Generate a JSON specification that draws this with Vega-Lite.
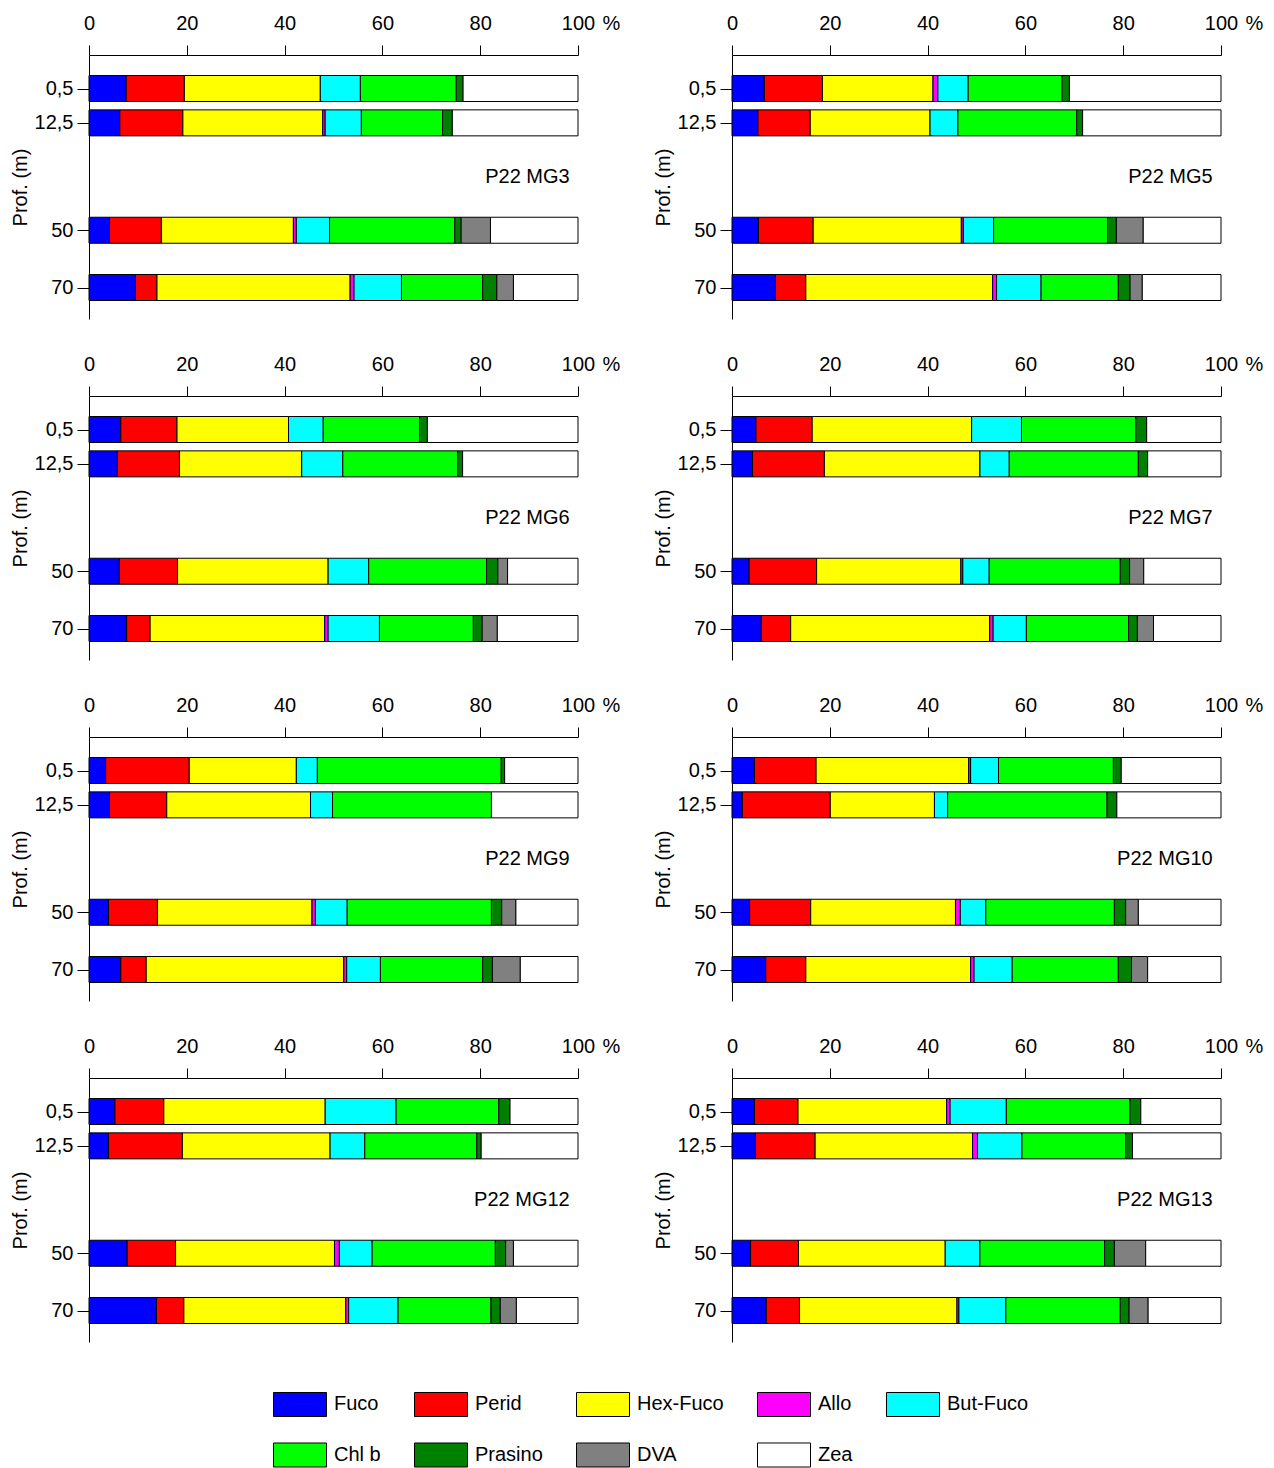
{
  "$schema": "https://vega.github.io/schema/vega-lite/v6.json",
  "background": "white",
  "padding": {"left": 10, "top": 12, "right": 5, "bottom": 5},
  "data": {
    "values": [
      {"panel": "P22 MG3", "depth": 0.5, "Fuco": 7.6, "Perid": 11.9, "Hex-Fuco": 27.8, "Allo": 0, "But-Fuco": 8.2, "Chl b": 19.6, "Prasino": 1.4, "DVA": 0, "Zea": 23.5},
      {"panel": "P22 MG3", "depth": 12.5, "Fuco": 6.3, "Perid": 12.9, "Hex-Fuco": 28.6, "Allo": 0.5, "But-Fuco": 7.4, "Chl b": 16.6, "Prasino": 2.0, "DVA": 0, "Zea": 25.7},
      {"panel": "P22 MG3", "depth": 50, "Fuco": 4.2, "Perid": 10.6, "Hex-Fuco": 27.0, "Allo": 0.6, "But-Fuco": 6.8, "Chl b": 25.6, "Prasino": 1.3, "DVA": 6.0, "Zea": 17.9},
      {"panel": "P22 MG3", "depth": 70, "Fuco": 9.5, "Perid": 4.4, "Hex-Fuco": 39.5, "Allo": 0.8, "But-Fuco": 9.7, "Chl b": 16.6, "Prasino": 2.9, "DVA": 3.4, "Zea": 13.2},
      {"panel": "P22 MG5", "depth": 0.5, "Fuco": 6.6, "Perid": 11.9, "Hex-Fuco": 22.6, "Allo": 1.0, "But-Fuco": 6.2, "Chl b": 19.2, "Prasino": 1.5, "DVA": 0, "Zea": 31.0},
      {"panel": "P22 MG5", "depth": 12.5, "Fuco": 5.3, "Perid": 10.7, "Hex-Fuco": 24.5, "Allo": 0, "But-Fuco": 5.7, "Chl b": 24.3, "Prasino": 1.2, "DVA": 0, "Zea": 28.3},
      {"panel": "P22 MG5", "depth": 50, "Fuco": 5.4, "Perid": 11.2, "Hex-Fuco": 30.3, "Allo": 0.4, "But-Fuco": 6.2, "Chl b": 23.3, "Prasino": 1.8, "DVA": 5.5, "Zea": 15.9},
      {"panel": "P22 MG5", "depth": 70, "Fuco": 8.9, "Perid": 6.2, "Hex-Fuco": 38.2, "Allo": 0.8, "But-Fuco": 9.1, "Chl b": 15.8, "Prasino": 2.4, "DVA": 2.5, "Zea": 16.1},
      {"panel": "P22 MG6", "depth": 0.5, "Fuco": 6.5, "Perid": 11.5, "Hex-Fuco": 22.8, "Allo": 0, "But-Fuco": 7.1, "Chl b": 19.7, "Prasino": 1.6, "DVA": 0, "Zea": 30.8},
      {"panel": "P22 MG6", "depth": 12.5, "Fuco": 5.8, "Perid": 12.7, "Hex-Fuco": 25.0, "Allo": 0, "But-Fuco": 8.4, "Chl b": 23.5, "Prasino": 1.0, "DVA": 0, "Zea": 23.6},
      {"panel": "P22 MG6", "depth": 50, "Fuco": 6.2, "Perid": 11.9, "Hex-Fuco": 30.8, "Allo": 0, "But-Fuco": 8.3, "Chl b": 24.1, "Prasino": 2.3, "DVA": 2.0, "Zea": 14.4},
      {"panel": "P22 MG6", "depth": 70, "Fuco": 7.7, "Perid": 4.8, "Hex-Fuco": 35.7, "Allo": 0.7, "But-Fuco": 10.5, "Chl b": 19.2, "Prasino": 1.8, "DVA": 3.1, "Zea": 16.5},
      {"panel": "P22 MG7", "depth": 0.5, "Fuco": 4.9, "Perid": 11.5, "Hex-Fuco": 32.6, "Allo": 0, "But-Fuco": 10.2, "Chl b": 23.4, "Prasino": 2.2, "DVA": 0, "Zea": 15.2},
      {"panel": "P22 MG7", "depth": 12.5, "Fuco": 4.2, "Perid": 14.7, "Hex-Fuco": 31.8, "Allo": 0, "But-Fuco": 6.0, "Chl b": 26.4, "Prasino": 1.9, "DVA": 0, "Zea": 15.0},
      {"panel": "P22 MG7", "depth": 50, "Fuco": 3.5, "Perid": 13.8, "Hex-Fuco": 29.5, "Allo": 0.4, "But-Fuco": 5.4, "Chl b": 26.8, "Prasino": 1.9, "DVA": 2.9, "Zea": 15.8},
      {"panel": "P22 MG7", "depth": 70, "Fuco": 6.0, "Perid": 6.0, "Hex-Fuco": 40.7, "Allo": 0.7, "But-Fuco": 6.8, "Chl b": 20.9, "Prasino": 1.8, "DVA": 3.3, "Zea": 13.8},
      {"panel": "P22 MG9", "depth": 0.5, "Fuco": 3.4, "Perid": 17.1, "Hex-Fuco": 21.9, "Allo": 0, "But-Fuco": 4.3, "Chl b": 37.6, "Prasino": 0.7, "DVA": 0, "Zea": 15.0},
      {"panel": "P22 MG9", "depth": 12.5, "Fuco": 4.2, "Perid": 11.7, "Hex-Fuco": 29.4, "Allo": 0, "But-Fuco": 4.5, "Chl b": 32.5, "Prasino": 0, "DVA": 0, "Zea": 17.7},
      {"panel": "P22 MG9", "depth": 50, "Fuco": 4.0, "Perid": 10.0, "Hex-Fuco": 31.6, "Allo": 0.7, "But-Fuco": 6.5, "Chl b": 29.5, "Prasino": 2.1, "DVA": 2.9, "Zea": 12.7},
      {"panel": "P22 MG9", "depth": 70, "Fuco": 6.5, "Perid": 5.2, "Hex-Fuco": 40.4, "Allo": 0.6, "But-Fuco": 6.9, "Chl b": 20.9, "Prasino": 2.0, "DVA": 5.7, "Zea": 11.8},
      {"panel": "P22 MG10", "depth": 0.5, "Fuco": 4.6, "Perid": 12.6, "Hex-Fuco": 31.2, "Allo": 0.4, "But-Fuco": 5.7, "Chl b": 23.5, "Prasino": 1.6, "DVA": 0, "Zea": 20.4},
      {"panel": "P22 MG10", "depth": 12.5, "Fuco": 2.1, "Perid": 18.0, "Hex-Fuco": 21.3, "Allo": 0, "But-Fuco": 2.7, "Chl b": 32.6, "Prasino": 2.0, "DVA": 0, "Zea": 21.3},
      {"panel": "P22 MG10", "depth": 50, "Fuco": 3.6, "Perid": 12.5, "Hex-Fuco": 29.6, "Allo": 1.0, "But-Fuco": 5.2, "Chl b": 26.3, "Prasino": 2.3, "DVA": 2.6, "Zea": 16.9},
      {"panel": "P22 MG10", "depth": 70, "Fuco": 6.9, "Perid": 8.2, "Hex-Fuco": 33.7, "Allo": 0.7, "But-Fuco": 7.8, "Chl b": 21.7, "Prasino": 2.7, "DVA": 3.3, "Zea": 15.0},
      {"panel": "P22 MG12", "depth": 0.5, "Fuco": 5.3, "Perid": 10.0, "Hex-Fuco": 33.0, "Allo": 0, "But-Fuco": 14.5, "Chl b": 21.0, "Prasino": 2.3, "DVA": 0, "Zea": 13.9},
      {"panel": "P22 MG12", "depth": 12.5, "Fuco": 4.0, "Perid": 15.1, "Hex-Fuco": 30.2, "Allo": 0, "But-Fuco": 7.1, "Chl b": 22.9, "Prasino": 0.9, "DVA": 0, "Zea": 19.8},
      {"panel": "P22 MG12", "depth": 50, "Fuco": 7.8, "Perid": 9.9, "Hex-Fuco": 32.5, "Allo": 1.0, "But-Fuco": 6.7, "Chl b": 25.2, "Prasino": 2.1, "DVA": 1.6, "Zea": 13.2},
      {"panel": "P22 MG12", "depth": 70, "Fuco": 13.8, "Perid": 5.6, "Hex-Fuco": 33.1, "Allo": 0.6, "But-Fuco": 10.1, "Chl b": 19.0, "Prasino": 1.9, "DVA": 3.3, "Zea": 12.6},
      {"panel": "P22 MG13", "depth": 0.5, "Fuco": 4.6, "Perid": 8.9, "Hex-Fuco": 30.4, "Allo": 0.7, "But-Fuco": 11.5, "Chl b": 25.3, "Prasino": 2.2, "DVA": 0, "Zea": 16.4},
      {"panel": "P22 MG13", "depth": 12.5, "Fuco": 4.8, "Perid": 12.2, "Hex-Fuco": 32.2, "Allo": 1.0, "But-Fuco": 9.1, "Chl b": 21.2, "Prasino": 1.4, "DVA": 0, "Zea": 18.1},
      {"panel": "P22 MG13", "depth": 50, "Fuco": 3.8, "Perid": 9.8, "Hex-Fuco": 30.0, "Allo": 0, "But-Fuco": 7.1, "Chl b": 25.5, "Prasino": 2.0, "DVA": 6.4, "Zea": 15.4},
      {"panel": "P22 MG13", "depth": 70, "Fuco": 7.0, "Perid": 6.8, "Hex-Fuco": 32.2, "Allo": 0.4, "But-Fuco": 9.6, "Chl b": 23.4, "Prasino": 1.8, "DVA": 3.9, "Zea": 14.9}
    ]
  },
  "transform": [
    {"fold": ["Fuco", "Perid", "Hex-Fuco", "Allo", "But-Fuco", "Chl b", "Prasino", "DVA", "Zea"], "as": ["pigment", "value"]},
    {"filter": "datum.value > 0"},
    {"stack": "value", "groupby": ["panel", "depth"], "as": ["x0", "x1"]}
  ],
  "facet": {
    "field": "panel",
    "type": "nominal",
    "sort": ["P22 MG3", "P22 MG5", "P22 MG6", "P22 MG7", "P22 MG9", "P22 MG10", "P22 MG12", "P22 MG13"],
    "header": {"labels": false, "title": null, "labelPadding": 0, "labelFontSize": 1, "labelColor": "transparent"}
  },
  "columns": 2,
  "bounds": "flush",
  "spacing": {"row": 77, "column": 154},
  "resolve": {"axis": {"x": "independent", "y": "independent"}},
  "spec": {
    "width": 489,
    "height": 264,
    "layer": [
      {
        "mark": {"type": "bar", "orient": "horizontal", "size": 26, "stroke": "black", "strokeWidth": 1},
        "encoding": {
          "x": {
            "field": "x0",
            "type": "quantitative",
            "scale": {"domain": [0, 100], "nice": false, "padding": 0},
            "axis": {
              "orient": "top",
              "values": [0, 20, 40, 60, 80, 100],
              "format": "d",
              "tickSize": 10,
              "labelPadding": 12,
              "labelFlush": false,
              "labelOverlap": false,
              "title": "%",
              "titleX": 513,
              "titleY": -22,
              "titleAlign": "left",
              "titleBaseline": "bottom",
              "titleAngle": 0
            }
          },
          "x2": {"field": "x1"},
          "y": {
            "field": "depth",
            "type": "quantitative",
            "scale": {"domain": [-11.2, 81], "reverse": true, "nice": false, "zero": false, "padding": 0},
            "axis": {
              "values": [0.5, 12.5, 50, 70],
              "labelExpr": "replace(toString(datum.value), '.', ',')",
              "tickSize": 12,
              "labelPadding": 4,
              "title": "Prof. (m)",
              "titlePadding": 4
            }
          },
          "color": {
            "field": "pigment",
            "type": "nominal",
            "scale": {
              "domain": ["Fuco", "Perid", "Hex-Fuco", "Allo", "But-Fuco", "Chl b", "Prasino", "DVA", "Zea"],
              "range": ["#0000ff", "#ff0000", "#ffff00", "#ff00ff", "#00ffff", "#00ff00", "#008000", "#808080", "#ffffff"]
            },
            "legend": {
              "orient": "none",
              "legendX": 184,
              "legendY": 1322,
              "direction": "horizontal",
              "columns": 5,
              "title": null,
              "symbolType": "M-1,-0.453H1V0.453H-1Z",
              "symbolSize": 2809,
              "symbolStrokeColor": "black",
              "symbolStrokeWidth": 1,
              "symbolOpacity": 1,
              "labelFontSize": 20,
              "labelOffset": 7,
              "columnPadding": 31,
              "rowPadding": 9
            }
          }
        }
      },
      {
        "transform": [{"filter": "datum.pigment == 'Fuco' && datum.depth == 0.5"}],
        "mark": {"type": "text", "align": "right", "baseline": "middle", "fontSize": 20, "color": "black"},
        "encoding": {
          "x": {"datum": 98.3, "type": "quantitative"},
          "y": {"datum": 31.3, "type": "quantitative"},
          "text": {"field": "panel"}
        }
      }
    ]
  },
  "config": {
    "font": "Liberation Sans",
    "view": {"stroke": null},
    "header": {"labels": false, "title": null, "labelPadding": 0, "labelFontSize": 1, "labelColor": "transparent"},
    "axis": {
      "grid": false,
      "labelFontSize": 20,
      "titleFontSize": 20,
      "titleFontWeight": "normal",
      "labelColor": "black",
      "titleColor": "black",
      "domainColor": "black",
      "tickColor": "black"
    },
    "legend": {"labelColor": "black", "labelFontSize": 20},
    "text": {"font": "Liberation Sans"}
  }
}
